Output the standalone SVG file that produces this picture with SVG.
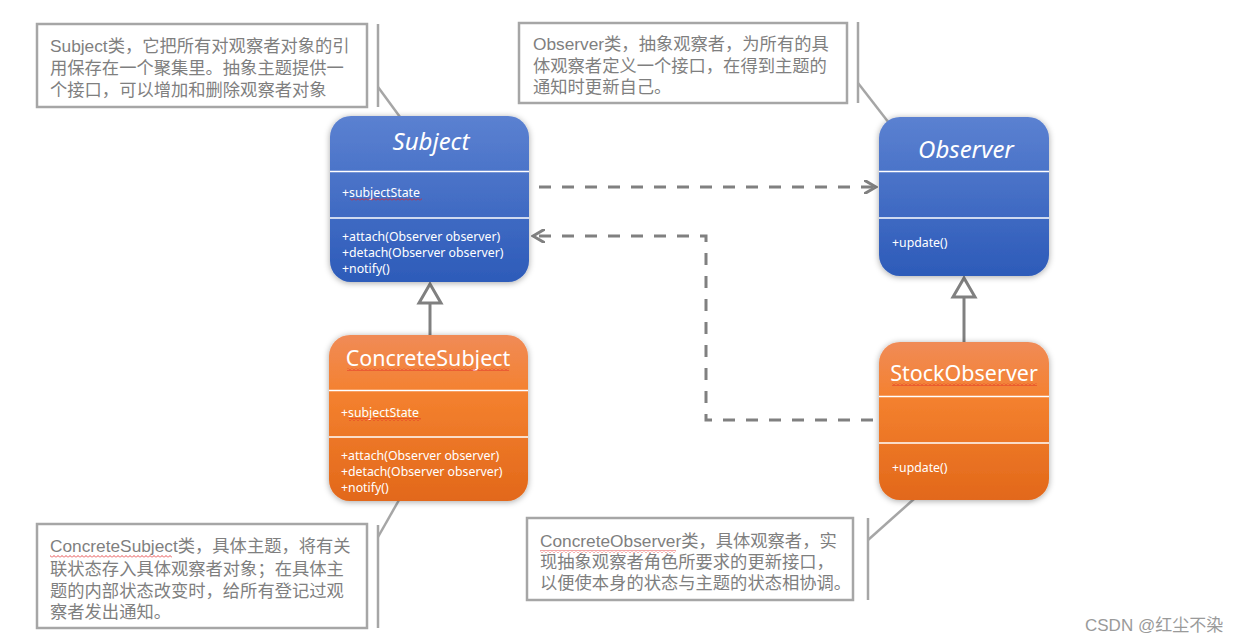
<svg xmlns="http://www.w3.org/2000/svg" width="1237" height="643" viewBox="0 0 1237 643">
<defs>
<linearGradient id="blue" x1="0" y1="0" x2="0" y2="1">
<stop offset="0" stop-color="#5b81d1"/><stop offset="1" stop-color="#2d5bb9"/>
</linearGradient>
<linearGradient id="orange" x1="0" y1="0" x2="0" y2="1">
<stop offset="0" stop-color="#f08b57"/><stop offset="0.35" stop-color="#f4812f"/><stop offset="1" stop-color="#e2681a"/>
</linearGradient>
<filter id="sh" x="-20%" y="-20%" width="140%" height="140%">
<feDropShadow dx="0" dy="1" stdDeviation="3" flood-color="#000" flood-opacity="0.35"/>
</filter>
<pattern id="wavy" x="0" y="0" width="4" height="3" patternUnits="userSpaceOnUse">
<path d="M0,2.5 L2,0.5 L4,2.5" fill="none" stroke="#e02020" stroke-width="0.8"/>
</pattern>
<marker id="open" markerWidth="14" markerHeight="14" refX="12" refY="7" orient="auto" markerUnits="userSpaceOnUse">
<path d="M0,0 L12,7 L0,14" fill="none" stroke="#808080" stroke-width="3"/>
</marker>
</defs>
<style>
.note{fill:#fff;stroke:#a6a6a6;stroke-width:2.5}
.lead{fill:none;stroke:#a6a6a6;stroke-width:2.5}
.nt{font-family:"Liberation Sans","Noto Sans CJK SC",sans-serif;font-size:17.3px;fill:#7f7f7f}
.sep{stroke:#fff;stroke-width:1.5}
.title{font-family:"Noto Sans","Noto Sans CJK SC",sans-serif;fill:#fff;text-anchor:middle}
.mem{font-family:"Noto Sans","Liberation Sans",sans-serif;font-size:12.3px;fill:#fff}
.dash{fill:none;stroke:#808080;stroke-width:3;stroke-dasharray:12 11}
.solid{fill:none;stroke:#808080;stroke-width:3}
.tri{fill:#fff;stroke:#808080;stroke-width:3}
</style>
<rect width="1237" height="643" fill="#fff"/>

<g id="note-subject">
<rect class="note" x="37" y="24" width="330" height="83"/>
<line class="lead" x1="378" y1="24" x2="378" y2="107"/>
<line class="lead" x1="378" y1="87" x2="400" y2="117"/>
<text class="nt" x="50" y="52">Subject类，它把所有对观察者对象的引</text>
<text class="nt" x="50" y="74">用保存在一个聚集里。抽象主题提供一</text>
<text class="nt" x="50" y="96">个接口，可以增加和删除观察者对象</text>
</g>

<g id="note-observer">
<rect class="note" x="519" y="23" width="328" height="80"/>
<line class="lead" x1="858" y1="22" x2="858" y2="103"/>
<line class="lead" x1="858" y1="83" x2="889" y2="123"/>
<text class="nt" x="533" y="50">Observer类，抽象观察者，为所有的具</text>
<text class="nt" x="533" y="72">体观察者定义一个接口，在得到主题的</text>
<text class="nt" x="533" y="93">通知时更新自己。</text>
</g>

<g id="note-concretesubject">
<rect class="note" x="37" y="524" width="330" height="104"/>
<line class="lead" x1="378" y1="525" x2="378" y2="628"/>
<line class="lead" x1="378" y1="537" x2="399" y2="500"/>
<text class="nt" x="50" y="552">ConcreteSubject类，具体主题，将有关</text>
<rect x="50" y="555" width="122" height="3" fill="url(#wavy)"/>
<text class="nt" x="50" y="575">联状态存入具体观察者对象；在具体主</text>
<text class="nt" x="50" y="597">题的内部状态改变时，给所有登记过观</text>
<text class="nt" x="50" y="618">察者发出通知。</text>
</g>

<g id="note-concreteobserver">
<rect class="note" x="527" y="518" width="326" height="82"/>
<line class="lead" x1="868" y1="518" x2="868" y2="600"/>
<line class="lead" x1="868" y1="540" x2="914" y2="499"/>
<text class="nt" x="540" y="547">ConcreteObserver类，具体观察者，实</text>
<rect x="540" y="550" width="136" height="3" fill="url(#wavy)"/>
<text class="nt" x="540" y="568">现抽象观察者角色所要求的更新接口，</text>
<text class="nt" x="540" y="589">以便使本身的状态与主题的状态相协调。</text>
</g>

<g id="connectors">
<line class="dash" x1="539" y1="187" x2="876" y2="187" marker-end="url(#open)"/>
<polyline class="dash" points="873,420 706,420 706,236 533,236" marker-end="url(#open)"/>
<line class="solid" x1="430" y1="335" x2="430" y2="302"/>
<polygon class="tri" points="430,284 419,303 441,303"/>
<line class="solid" x1="964" y1="342" x2="964" y2="296"/>
<polygon class="tri" points="964,278 953,297 975,297"/>
</g>

<g id="subject">
<rect x="330" y="116" width="199" height="166" rx="21" fill="url(#blue)" filter="url(#sh)"/>
<line class="sep" x1="330" y1="171.5" x2="529" y2="171.5"/>
<line class="sep" x1="330" y1="218" x2="529" y2="218"/>
<text class="title" x="431" y="150" font-size="24" font-style="italic">Subject</text>
<text class="mem" x="342" y="197">+subjectState</text>
<rect x="350" y="198" width="72" height="3" fill="url(#wavy)"/>
<text class="mem" x="342" y="241">+attach(Observer observer)</text>
<text class="mem" x="342" y="257">+detach(Observer observer)</text>
<text class="mem" x="342" y="273">+notify()</text>
</g>

<g id="observer">
<rect x="879" y="117" width="170" height="159" rx="21" fill="url(#blue)" filter="url(#sh)"/>
<line class="sep" x1="879" y1="171.5" x2="1049" y2="171.5"/>
<line class="sep" x1="879" y1="218" x2="1049" y2="218"/>
<text class="title" x="966" y="158" font-size="24" font-style="italic">Observer</text>
<text class="mem" x="892" y="247">+update()</text>
</g>

<g id="concretesubject">
<rect x="329" y="335" width="199" height="166" rx="21" fill="url(#orange)" filter="url(#sh)"/>
<line class="sep" x1="329" y1="390.5" x2="528" y2="390.5"/>
<line class="sep" x1="329" y1="437" x2="528" y2="437"/>
<text class="title" x="428" y="366" font-size="21.5">ConcreteSubject</text>
<rect x="347" y="368" width="162" height="3" fill="url(#wavy)"/>
<text class="mem" x="341" y="417">+subjectState</text>
<rect x="349" y="418" width="72" height="3" fill="url(#wavy)"/>
<text class="mem" x="341" y="460">+attach(Observer observer)</text>
<text class="mem" x="341" y="476">+detach(Observer observer)</text>
<text class="mem" x="341" y="492">+notify()</text>
</g>

<g id="stockobserver">
<rect x="879" y="342" width="170" height="158" rx="21" fill="url(#orange)" filter="url(#sh)"/>
<line class="sep" x1="879" y1="396.5" x2="1049" y2="396.5"/>
<line class="sep" x1="879" y1="443" x2="1049" y2="443"/>
<text class="title" x="964" y="381" font-size="21.5">StockObserver</text>
<rect x="892" y="383" width="145" height="3" fill="url(#wavy)"/>
<text class="mem" x="892" y="472">+update()</text>
</g>

<text x="1085" y="631" font-family="Liberation Sans, Noto Sans CJK SC, sans-serif" font-size="17" fill="#9a9a9a">CSDN @红尘不染</text>
</svg>
